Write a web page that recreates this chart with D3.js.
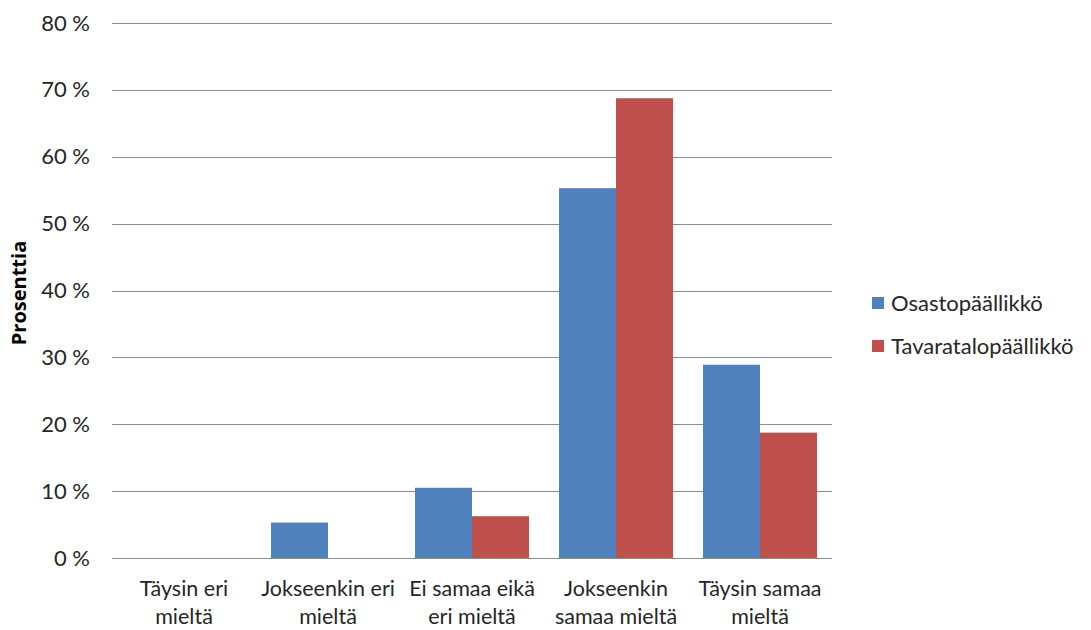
<!DOCTYPE html>
<html>
<head>
<meta charset="utf-8">
<script src="https://cdn.jsdelivr.net/npm/d3@7"></script>
<style>
  html, body { margin: 0; padding: 0; background: #fff; }
  svg text { font-family: "Lato", "Open Sans", sans-serif; fill: #262626; }
</style>
</head>
<body>
<svg id="chart" width="1091" height="630"></svg>
<script>
// Vastausvaihtoehdot
const categories = [
  ["Täysin eri", "mieltä"],
  ["Jokseenkin eri", "mieltä"],
  ["Ei samaa eikä", "eri mieltä"],
  ["Jokseenkin", "samaa mieltä"],
  ["Täysin samaa", "mieltä"]
];
const seriesNames = ["Osastopäällikkö", "Tavaratalopäällikkö"];
const osastopaallikko = [0, 5.3, 10.5, 55.3, 28.9];
const tavaratalopaallikko = [0, 0, 6.25, 68.75, 18.75];
const yTicks = [0, 10, 20, 30, 40, 50, 60, 70, 80];
const colors = ["#4F81BD", "#C0504D"];

const svg = d3.select("#chart");
const plot = { left: 112, right: 832, top: 23, bottom: 558 };

const catKeys = categories.map((c, i) => i);
const x0 = d3.scaleBand()
  .domain(catKeys)
  .range([plot.left, plot.right])
  .paddingInner(0.208)
  .paddingOuter(0.104);
const x1 = d3.scaleBand()
  .domain([0, 1])
  .range([0, x0.bandwidth()]);
const y = d3.scaleLinear().domain([0, 80]).range([plot.bottom, plot.top]);

// Vaakasuorat apuviivat
svg.append("g")
  .selectAll("line")
  .data(yTicks)
  .join("line")
  .attr("x1", plot.left)
  .attr("x2", plot.right)
  .attr("y1", d => Math.round(y(d)) + 0.5)
  .attr("y2", d => Math.round(y(d)) + 0.5)
  .attr("stroke", "#8c8c8c")
  .attr("stroke-width", 1.2);

// Y-akselin tekstit
const yAxis = d3.axisLeft(y).tickValues(yTicks).tickFormat(d => d + " %").tickSize(0).tickPadding(0);
const yg = svg.append("g").attr("transform", `translate(${plot.left - 22},0)`).call(yAxis);
yg.select(".domain").remove();
yg.selectAll("text").attr("font-size", 22).attr("fill", "#262626")
  .style("font-family", "Lato, 'Open Sans', sans-serif");

// Pylväät
const series = [osastopaallikko, tavaratalopaallikko];
series.forEach((vals, s) => {
  svg.append("g")
    .selectAll("rect")
    .data(vals)
    .join("rect")
    .attr("x", (d, i) => x0(i) + x1(s))
    .attr("width", x1.bandwidth())
    .attr("y", d => y(d))
    .attr("height", d => y(0) - y(d))
    .attr("fill", colors[s]);
});

// X-akselin tekstit (kaksi riviä)
const xl = svg.append("g");
categories.forEach((lines, i) => {
  const t = xl.append("text")
    .attr("x", x0(i) + x0.bandwidth() / 2)
    .attr("y", 596)
    .attr("text-anchor", "middle")
    .attr("font-size", 21.5);
  lines.forEach((ln, j) => {
    t.append("tspan")
      .attr("x", x0(i) + x0.bandwidth() / 2)
      .attr("dy", j === 0 ? 0 : 28)
      .text(ln);
  });
});

// Y-akselin otsikko
svg.append("text")
  .attr("transform", "translate(26,293) rotate(-90)")
  .attr("text-anchor", "middle")
  .attr("font-size", 20)
  .attr("font-weight", "bold")
  .style("font-family", "'Open Sans', sans-serif")
  .style("fill", "#000")
  .text("Prosenttia");

// Selite
const legend = svg.append("g");
seriesNames.forEach((name, i) => {
  const ly = 303 + i * 43;
  legend.append("rect")
    .attr("x", 872).attr("y", ly - 6)
    .attr("width", 12).attr("height", 12)
    .attr("fill", colors[i]);
  legend.append("text")
    .attr("x", 891).attr("y", ly + 8)
    .attr("font-size", 22)
    .text(name);
});
</script>
</body>
</html>
